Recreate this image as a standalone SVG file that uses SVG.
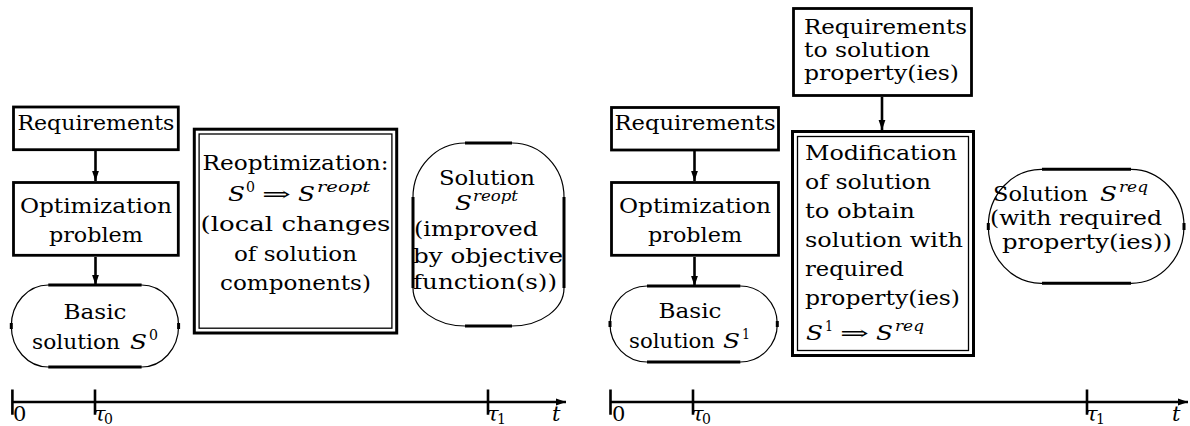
<svg xmlns="http://www.w3.org/2000/svg" width="1190" height="426" viewBox="0 0 1190 426">
<defs>
<marker id="ah" markerUnits="userSpaceOnUse" markerWidth="11" markerHeight="8" refX="10" refY="4" orient="auto"><path d="M0,0.6 L10,4 L0,7.4 Z" fill="#000"/></marker>
</defs>
<style>
.box{fill:#fff;stroke:#000;stroke-width:2.8}
.dbo{fill:#fff;stroke:#000;stroke-width:3}
.dbi{fill:none;stroke:#000;stroke-width:1.3}
.arc{fill:#fff;stroke:#000;stroke-width:1.2}
.flat{stroke:#000;stroke-width:3;fill:none}
.edge{stroke:#000;stroke-width:2.6;fill:none}
.axis{stroke:#000;stroke-width:2.6;fill:none}
.t{font-family:"DejaVu Serif","Liberation Serif",serif;font-size:20px;fill:#000}
.m{text-anchor:middle}
.it{font-style:italic}
.sup{font-size:14px}
.ax{font-size:21px}
</style>

<rect width="1190" height="426" fill="#fff"/>

<!-- ============ LEFT PANEL ============ -->
<g id="L-req">
<rect class="box" x="13.5" y="107" width="164.8" height="42.7"/>
<text class="t m" x="95.9" y="130" textLength="157" lengthAdjust="spacingAndGlyphs">Requirements</text>
</g>
<g id="L-opt">
<rect class="box" x="13.5" y="182.5" width="164.8" height="72.8"/>
<text class="t m" x="95.9" y="213" textLength="152" lengthAdjust="spacingAndGlyphs">Optimization</text>
<text class="t m" x="95.9" y="242" textLength="94" lengthAdjust="spacingAndGlyphs">problem</text>
</g>
<g id="L-basic">
<path class="arc" d="M48.3,285 H141.6 A37,41 0 0 1 178.6,326 A37,41 0 0 1 141.6,367 H48.3 A37,41 0 0 1 11.3,326 A37,41 0 0 1 48.3,285 Z"/>
<path class="flat" d="M48.3,285 H141.6 M48.3,367 H141.6 M11.3,323 V329 M178.6,323 V329"/>
<text class="t m" x="95" y="319" textLength="63" lengthAdjust="spacingAndGlyphs">Basic</text>
<text class="t" x="32" y="349" textLength="88" lengthAdjust="spacingAndGlyphs">solution</text>
<text class="t it" x="130" y="349" textLength="17" lengthAdjust="spacingAndGlyphs">S</text>
<text class="t sup" x="149" y="340" textLength="9" lengthAdjust="spacingAndGlyphs">0</text>
</g>
<g id="L-reopt">
<rect class="dbo" x="194.3" y="129.2" width="202.4" height="203.8"/>
<rect class="dbi" x="199.1" y="134" width="192.8" height="194.2"/>
<text class="t m" x="295.5" y="170" textLength="186" lengthAdjust="spacingAndGlyphs">Reoptimization:</text>
<text class="t it" x="228" y="201" textLength="17" lengthAdjust="spacingAndGlyphs">S</text>
<text class="t sup" x="246" y="192" textLength="9" lengthAdjust="spacingAndGlyphs">0</text>
<text class="t" x="262" y="201" textLength="29" lengthAdjust="spacingAndGlyphs">⇒</text>
<text class="t it" x="298" y="201" textLength="17" lengthAdjust="spacingAndGlyphs">S</text>
<text class="t it sup" x="317" y="192" textLength="53" lengthAdjust="spacingAndGlyphs">reopt</text>
<text class="t m" x="295.5" y="231" textLength="190" lengthAdjust="spacingAndGlyphs">(local changes</text>
<text class="t m" x="295.5" y="261" textLength="123" lengthAdjust="spacingAndGlyphs">of solution</text>
<text class="t m" x="295.5" y="290" textLength="151" lengthAdjust="spacingAndGlyphs">components)</text>
</g>
<g id="L-sol">
<path class="arc" d="M465,143 H512 A52,54 0 0 1 564,197 V288 A52,38 0 0 1 512,326 H465 A52,38 0 0 1 413,288 V197 A52,54 0 0 1 465,143 Z"/>
<path class="flat" d="M465,143 H512 M465,326 H512 M413,197 V288 M564,197 V288"/>
<text class="t m" x="487" y="185" textLength="96" lengthAdjust="spacingAndGlyphs">Solution</text>
<text class="t it" x="455" y="210" textLength="17" lengthAdjust="spacingAndGlyphs">S</text>
<text class="t it sup" x="473" y="201" textLength="45" lengthAdjust="spacingAndGlyphs">reopt</text>
<text class="t m" x="476" y="236" textLength="124" lengthAdjust="spacingAndGlyphs">(improved</text>
<text class="t m" x="488" y="263" textLength="150" lengthAdjust="spacingAndGlyphs">by objective</text>
<text class="t m" x="485" y="289" textLength="144" lengthAdjust="spacingAndGlyphs">function(s))</text>
</g>

<!-- ============ RIGHT PANEL ============ -->
<g id="R-top">
<rect class="box" x="793.5" y="8.5" width="178" height="87"/>
<text class="t" x="804" y="34" textLength="163" lengthAdjust="spacingAndGlyphs">Requirements</text>
<text class="t" x="804" y="57" textLength="126" lengthAdjust="spacingAndGlyphs">to solution</text>
<text class="t" x="804" y="80" textLength="155" lengthAdjust="spacingAndGlyphs">property(ies)</text>
</g>
<g id="R-req">
<rect class="box" x="611.5" y="107.5" width="167" height="42.5"/>
<text class="t m" x="695" y="130" textLength="161" lengthAdjust="spacingAndGlyphs">Requirements</text>
</g>
<g id="R-opt">
<rect class="box" x="611.5" y="182.5" width="167" height="72.8"/>
<text class="t m" x="695" y="213" textLength="152" lengthAdjust="spacingAndGlyphs">Optimization</text>
<text class="t m" x="695" y="242" textLength="94" lengthAdjust="spacingAndGlyphs">problem</text>
</g>
<g id="R-basic">
<path class="arc" d="M647,286 H740.3 A37,38 0 0 1 777.3,324 A37,38 0 0 1 740.3,362 H647 A37,38 0 0 1 610,324 A37,38 0 0 1 647,286 Z"/>
<path class="flat" d="M647,286 H740.3 M647,362 H740.3 M610,321 V327 M777.3,321 V327"/>
<text class="t m" x="690" y="318" textLength="63" lengthAdjust="spacingAndGlyphs">Basic</text>
<text class="t" x="629" y="348" textLength="86" lengthAdjust="spacingAndGlyphs">solution</text>
<text class="t it" x="723" y="348" textLength="17" lengthAdjust="spacingAndGlyphs">S</text>
<text class="t sup" x="742" y="339" textLength="8" lengthAdjust="spacingAndGlyphs">1</text>
</g>
<g id="R-mod">
<rect class="dbo" x="792.5" y="131.5" width="181" height="224"/>
<rect class="dbi" x="797.5" y="136.5" width="171" height="214"/>
<text class="t" x="805" y="160" textLength="152" lengthAdjust="spacingAndGlyphs">Modification</text>
<text class="t" x="805" y="189" textLength="126" lengthAdjust="spacingAndGlyphs">of solution</text>
<text class="t" x="805" y="218" textLength="110" lengthAdjust="spacingAndGlyphs">to obtain</text>
<text class="t" x="805" y="247" textLength="158" lengthAdjust="spacingAndGlyphs">solution with</text>
<text class="t" x="805" y="276" textLength="99" lengthAdjust="spacingAndGlyphs">required</text>
<text class="t" x="805" y="305" textLength="155" lengthAdjust="spacingAndGlyphs">property(ies)</text>
<text class="t it" x="806" y="340" textLength="17" lengthAdjust="spacingAndGlyphs">S</text>
<text class="t sup" x="825" y="331" textLength="8" lengthAdjust="spacingAndGlyphs">1</text>
<text class="t" x="840" y="340" textLength="29" lengthAdjust="spacingAndGlyphs">⇒</text>
<text class="t it" x="876" y="340" textLength="17" lengthAdjust="spacingAndGlyphs">S</text>
<text class="t it sup" x="895" y="331" textLength="29" lengthAdjust="spacingAndGlyphs">req</text>
</g>
<g id="R-sol">
<path class="arc" d="M1042,169.3 H1131 A53,57 0 0 1 1184,226.3 A53,57 0 0 1 1131,283.3 H1042 A53,57 0 0 1 988.3,226.3 A53,57 0 0 1 1042,169.3 Z"/>
<path class="flat" d="M1042,169.3 H1131 M1042,283.3 H1131 M988.3,223 V230 M1184,223 V230"/>
<text class="t" x="993" y="201" textLength="95" lengthAdjust="spacingAndGlyphs">Solution</text>
<text class="t it" x="1100" y="201" textLength="17" lengthAdjust="spacingAndGlyphs">S</text>
<text class="t it sup" x="1119" y="192" textLength="29" lengthAdjust="spacingAndGlyphs">req</text>
<text class="t" x="990" y="225" textLength="172" lengthAdjust="spacingAndGlyphs">(with required</text>
<text class="t" x="1002" y="249" textLength="170" lengthAdjust="spacingAndGlyphs">property(ies))</text>
</g>

<!-- ============ CONNECTORS ============ -->
<g id="connectors">
<line class="edge" x1="95.5" y1="151" x2="95.5" y2="181" marker-end="url(#ah)"/>
<line class="edge" x1="95.5" y1="257" x2="95.5" y2="285" marker-end="url(#ah)"/>
<line class="edge" x1="694.5" y1="151" x2="694.5" y2="181" marker-end="url(#ah)"/>
<line class="edge" x1="694.5" y1="257" x2="694.5" y2="286" marker-end="url(#ah)"/>
<line class="edge" x1="882" y1="97" x2="882" y2="130" marker-end="url(#ah)"/>
</g>

<!-- ============ TIMELINES ============ -->
<g id="timeline-left">
<line class="axis" x1="12.4" y1="402" x2="566" y2="402" marker-end="url(#ah)"/>
<path class="axis" d="M12.4,389.5 V414.7 M95,389.5 V414.7 M488,389.5 V414.7"/>
<text class="t ax" x="13" y="421">0</text>
<text class="t ax it" x="94" y="421">τ</text>
<text class="t sup" x="104" y="424">0</text>
<text class="t ax it" x="487" y="421">τ</text>
<text class="t sup" x="497" y="424">1</text>
<text class="t ax it" x="552" y="421">t</text>
</g>
<g id="timeline-right">
<line class="axis" x1="610.5" y1="402" x2="1188" y2="402" marker-end="url(#ah)"/>
<path class="axis" d="M610.5,389.5 V414.7 M693,389.5 V414.7 M1087,389.5 V414.7"/>
<text class="t ax" x="612" y="421">0</text>
<text class="t ax it" x="692" y="421">τ</text>
<text class="t sup" x="702" y="424">0</text>
<text class="t ax it" x="1086" y="421">τ</text>
<text class="t sup" x="1096" y="424">1</text>
<text class="t ax it" x="1172" y="421">t</text>
</g>
</svg>
